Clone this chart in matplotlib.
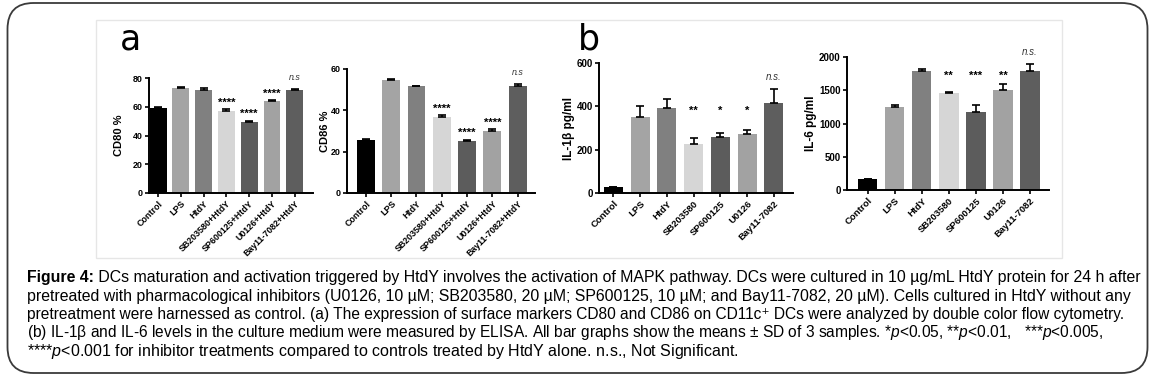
import numpy as np
import matplotlib
matplotlib.use("Agg")
import matplotlib.pyplot as plt
from matplotlib.patches import FancyBboxPatch, Rectangle

plt.rcParams['font.family'] = ['Liberation Sans', 'DejaVu Sans']
plt.rcParams['mathtext.fontset'] = 'custom'
plt.rcParams['mathtext.it'] = 'Liberation Sans:italic'
plt.rcParams['mathtext.rm'] = 'Liberation Sans'

# data
groups_a = ['Control', 'LPS', 'HtdY', 'SB203580+HtdY', 'SP600125+HtdY', 'U0126+HtdY', 'Bay11-7082+HtdY']
groups_b = ['Control', 'LPS', 'HtdY', 'SB203580', 'SP600125', 'U0126', 'Bay11-7082']
bar_colors = ['#000000', '#a4a4a4', '#808080', '#d6d6d6', '#5c5c5c', '#a2a2a2', '#5e5e5e']

cd80 = [59.1, 73.0, 71.9, 56.8, 49.6, 64.2, 71.4]
cd80_sd = [0.4, 0.4, 0.9, 1.4, 0.8, 0.4, 0.9]
cd86 = [25.7, 54.5, 51.6, 37.0, 25.4, 29.8, 51.6]
cd86_sd = [0.3, 0.9, 0.4, 0.7, 0.4, 1.0, 1.0]
il1b = [29, 352, 391, 226, 258, 274, 414]
il1b_sd = [0, 48, 44, 27, 17, 18, 66]
il6 = [170, 1253, 1784, 1454, 1168, 1509, 1784]
il6_sd = [0, 25, 40, 25, 105, 85, 115]

sig_a = ['', '', '', '****', '****', '****', 'n.s']
sig_b1 = ['', '', '', '**', '*', '*', 'n.s.']
sig_b2 = ['', '', '', '**', '***', '**', 'n.s.']

W, H = 1155, 379
fig = plt.figure(figsize=(W / 100, H / 100), dpi=100)


def px_axes(left, top, right, bottom):
    return fig.add_axes([left / W, 1 - bottom / H, (right - left) / W, (bottom - top) / H])


def panel(ax, labels, vals, sds, sig, ylim, yticks, ylabel, xlim, width, fx, fy, fl, lab_x,
          star_level=None):
    x = np.arange(len(vals))
    ax.bar(x, vals, width=width, color=bar_colors, zorder=2)
    ax.errorbar(x, vals, yerr=[np.zeros(len(vals)), sds], fmt='none', ecolor='black',
                elinewidth=1.2, capsize=3, capthick=1.2, zorder=3)
    ax.set_xlim(*xlim)
    ax.set_ylim(*ylim)
    ax.set_yticks(yticks)
    ax.set_xticks(x)
    ax.set_xticklabels(labels, rotation=45, ha='right', rotation_mode='anchor',
                       fontsize=fx, fontweight='bold')
    for t in ax.get_yticklabels():
        t.set_fontsize(fy)
        t.set_fontweight('bold')
    ax.set_ylabel(ylabel, fontsize=fl, fontweight='bold')
    ax.yaxis.set_label_coords(lab_x, 0.5)
    for s in ['top', 'right']:
        ax.spines[s].set_visible(False)
    for s in ['left', 'bottom']:
        ax.spines[s].set_linewidth(1.4)
    ax.tick_params(axis='both', width=1.2, length=3, pad=1.5)
    for i, s in enumerate(sig):
        if not s:
            continue
        if s.startswith('n'):
            ax.annotate(s, (x[i], vals[i] + sds[i]), xytext=(0, 5), textcoords='offset points',
                        ha='center', va='bottom', fontsize=fy, style='italic', color='#333333')
        elif star_level is not None:
            ax.text(x[i], star_level, s, ha='center', va='center', fontsize=8, fontweight='bold')
        else:
            ax.annotate(s, (x[i], vals[i] + sds[i]), xytext=(0, 1), textcoords='offset points',
                        ha='center', va='bottom', fontsize=8, fontweight='bold')


ax1 = px_axes(149, 78, 313, 193)
panel(ax1, groups_a, cd80, cd80_sd, sig_a, (0, 80), [0, 20, 40, 60, 80], 'CD80 %',
      (-0.4, 6.8), 0.74, 6.4, 6.4, 8, -0.15)

ax2 = px_axes(347, 69, 535, 193)
panel(ax2, groups_a, cd86, cd86_sd, sig_a, (0, 60), [0, 20, 40, 60], 'CD86 %',
      (-0.75, 6.69), 0.71, 6.4, 6.4, 8, -0.09)

ax3 = px_axes(599, 63, 793, 193)
panel(ax3, groups_b, il1b, il1b_sd, sig_b1, (0, 600), [0, 200, 400, 600], 'IL-1β pg/ml',
      (-0.54, 6.72), 0.71, 6.8, 7, 8.5, -0.125, star_level=377)

ax4 = px_axes(847, 57, 1049, 190)
panel(ax4, groups_b, il6, il6_sd, sig_b2, (0, 2000), [0, 500, 1000, 1500, 2000], 'IL-6 pg/ml',
      (-0.76, 6.7), 0.72, 6.8, 7, 8.5, -0.15, star_level=1714)

# panel letters
fig.text(130 / W, 1 - 49 / H, 'a', fontsize=25, family='DejaVu Sans', ha='center', va='baseline')
fig.text(589 / W, 1 - 50 / H, 'b', fontsize=25, family='DejaVu Sans', ha='center', va='baseline')

# frames
fig.add_artist(Rectangle((96, H - 258), 966, 238, transform=None, fill=False,
                         edgecolor='#e6e6e6', linewidth=1))
fig.add_artist(FancyBboxPatch((7.5, 6), 1140, 370, boxstyle='round,pad=0,rounding_size=26',
                              transform=None, fill=False, edgecolor='#3a3a3a', linewidth=1.3))

# caption
cap = fig.add_axes([0, 0, 1, 1])
cap.axis('off')
cfs = 11.4
t1 = cap.text(27 / W, 1 - 282 / H, 'Figure 4:', fontsize=cfs, fontweight='bold', va='baseline')
cap.annotate(' DCs maturation and activation triggered by HtdY involves the activation of MAPK pathway. '
             'DCs were cultured in 10 µg/mL HtdY protein for 24 h after',
             xy=(1, 0), xycoords=t1, va='bottom', fontsize=cfs)
lines = [
    'pretreated with pharmacological inhibitors (U0126, 10 µM; SB203580, 20 µM; SP600125, 10 µM; '
    'and Bay11-7082, 20 µM). Cells cultured in HtdY without any',
    'pretreatment were harnessed as control. (a) The expression of surface markers CD80 and CD86 '
    'on CD11c⁺ DCs were analyzed by double color flow cytometry.',
    '(b) IL-1β and IL-6 levels in the culture medium were measured by ELISA. All bar graphs show '
    'the means ± SD of 3 samples. *$p$<0.05, **$p$<0.01,   ***$p$<0.005,',
    '****$p$<0.001 for inhibitor treatments compared to controls treated by HtdY alone. n.s., Not Significant.',
]
line_sizes = [11.45, 11.2, 11.2, 11.55]
for k, line in enumerate(lines):
    cap.text(27 / W, 1 - (300.5 + 18.5 * k) / H, line, fontsize=line_sizes[k], va='baseline')

fig.savefig('out.png', dpi=100)
